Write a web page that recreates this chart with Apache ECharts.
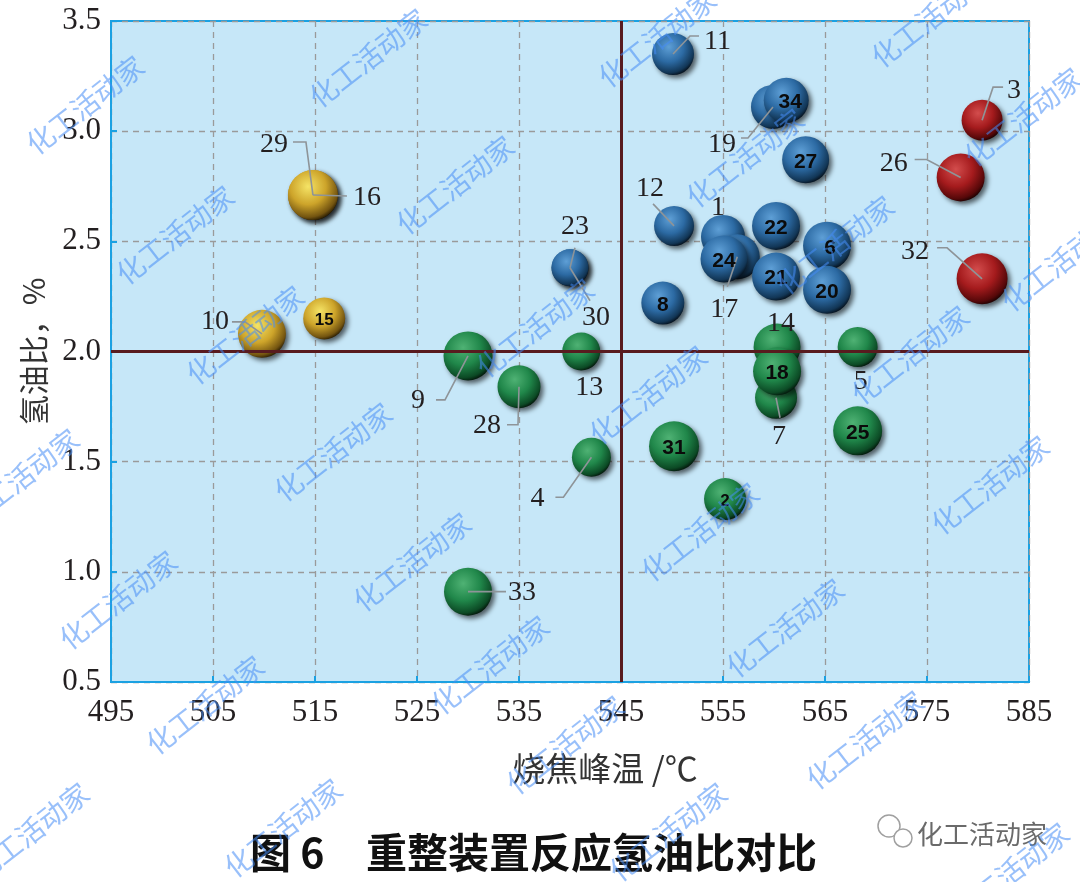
<!DOCTYPE html>
<html><head><meta charset="utf-8">
<script src="https://cdn.jsdelivr.net/npm/echarts@6/dist/echarts.min.js"></script>
<style>html,body{margin:0;padding:0;background:#fff}#chart{width:1080px;height:882px}</style>
</head><body><div id="chart"></div>
<script>
// ---------------- data ----------------
const xMin = 495, xMax = 585, xStep = 10;
const yMin = 0.5, yMax = 3.5, yStep = 0.5;
const refTemp = 545, refRatio = 2.0;
const xName = '烧焦峰温 /℃';
const yName = '氢油比，%';
const titleNo = '图 6';
const titleText = '重整装置反应氢油比对比';
const brandText = '化工活动家';

// blue group
const blueIds   = [11, 19, 34, 27, 12, 1, 17, 24, 22, 6, 21, 20, 8, 23, 30];
const blueTemp  = [550.1, 559.9, 561.2, 563.1, 550.2, 555.0, 556.4, 555.1, 560.2, 565.2, 560.2, 565.2, 549.1, 540.0, 540.0];
const blueRatio = [3.35, 3.11, 3.14, 2.87, 2.57, 2.52, 2.43, 2.42, 2.57, 2.48, 2.34, 2.28, 2.22, 2.38, 2.38];
const blueSize  = [42, 44, 45, 47, 40, 44, 45, 47, 48, 48, 48, 48, 43, 37, 37];
// red group
const redIds   = [3, 26, 32];
const redTemp  = [580.4, 578.3, 580.4];
const redRatio = [3.05, 2.79, 2.33];
const redSize  = [41, 48, 51];
// yellow group
const yellowIds   = [29, 16, 15, 10];
const yellowTemp  = [514.8, 514.8, 515.9, 509.8];
const yellowRatio = [2.71, 2.71, 2.15, 2.08];
const yellowSize  = [50, 50, 42, 48];
// green group
const greenIds   = [9, 28, 13, 4, 31, 2, 7, 14, 18, 5, 25, 33];
const greenTemp  = [530.0, 535.0, 541.1, 542.1, 550.2, 555.2, 560.2, 560.3, 560.3, 568.2, 568.2, 530.0];
const greenRatio = [1.98, 1.84, 2.00, 1.52, 1.57, 1.33, 1.79, 2.02, 1.91, 2.02, 1.64, 0.91];
const greenSize  = [49, 43, 38, 39, 50, 42, 42, 47, 48, 40, 49, 48];

// ---------------- label placement (pixel offsets from bubble centre) ----------------
const labelSpec = {
  11: {t:[31,-12], a:'left',  l:[[17,-18],[26,-18]]},
  19: {t:[-37,38], a:'right', l:[[-25,31],[-32,31]]},
  12: {t:[-10,-37], a:'right', l:[[-21,-22]]},
  1:  {t:[-5,-29], a:'center'},
  17: {t:[-13,53], a:'center', l:[[-10,30]]},
  23: {t:[5,-41], a:'center', l:[[5,-20]]},
  30: {t:[26,50], a:'center', l:[[20,33]]},
  3:  {t:[25,-30], a:'left',  l:[[11,-33],[21,-33]]},
  26: {t:[-53,-14], a:'right', l:[[-34,-18],[-46,-18]]},
  32: {t:[-53,-27], a:'right', l:[[-35,-31],[-45,-31]]},
  29: {t:[-25,-50], a:'right', l:[[-7,-53],[-20,-53]]},
  16: {t:[40,3], a:'left', l:[[34,1]]},
  10: {t:[-33,-12], a:'right', l:[[-17,-12],[-30,-12]]},
  9:  {t:[-43,45], a:'right', l:[[-23,44],[-32,44]]},
  28: {t:[-18,39], a:'right', l:[[-1,38],[-12,38]]},
  13: {t:[8,36], a:'center'},
  4:  {t:[-47,41], a:'right', l:[[-28,40],[-36,40]]},
  14: {t:[4,-23], a:'center'},
  7:  {t:[3,39], a:'center', l:[[4,20]]},
  5:  {t:[3,35], a:'center'},
  33: {t:[40,1], a:'left', l:[[38,0]]},
  34: {inside:true, t:[4,2]}, 27: {inside:true, t:[0,2]}, 22: {inside:true, t:[0,2]},
  6:  {inside:true, t:[3,2]}, 24: {inside:true, t:[0,2]}, 21: {inside:true, t:[0,2]},
  20: {inside:true, t:[0,2]}, 8:  {inside:true, t:[0,2]}, 15: {inside:true, t:[0,2], fs:17},
  31: {inside:true, t:[0,2]}, 2:  {inside:true, t:[0,2], fs:17}, 18: {inside:true, t:[0,2]},
  25: {inside:true, t:[0,2]}
};

// ---------------- styles ----------------
function ball(c0, c1, c2, c3) {
  return {type:'radial', x:0.4, y:0.33, r:0.72,
    colorStops:[{offset:0,color:c0},{offset:0.5,color:c1},{offset:0.85,color:c2},{offset:1,color:c3}]};
}
const groups = [
  {ids:blueIds, temp:blueTemp, ratio:blueRatio, size:blueSize, color:ball('#5e9fd6','#2c6aa3','#123656','#02070d')},
  {ids:redIds, temp:redTemp, ratio:redRatio, size:redSize, color:ball('#d34d4d','#a51b1d','#560809','#0c0000')},
  {ids:yellowIds, temp:yellowTemp, ratio:yellowRatio, size:yellowSize, color:ball('#f5e466','#cda42a','#735410','#160e00')},
  {ids:greenIds, temp:greenTemp, ratio:greenRatio, size:greenSize, color:ball('#4fb274','#20874a','#0c4a25','#010804')}
];

const series = groups.map(g => ({
  type:'scatter', silent:true, z:3,
  data: g.ids.map((id,i) => [g.temp[i], g.ratio[i], g.size[i], id]),
  symbolSize: v => v[2],
  itemStyle:{color:g.color, opacity:1, shadowColor:'rgba(0,0,0,0.6)', shadowBlur:5, shadowOffsetX:3, shadowOffsetY:3}
}));

const annData = [];
groups.forEach(g => g.ids.forEach((id,i) => annData.push([g.temp[i], g.ratio[i], id])));

series.push({
  type:'custom', silent:true, z:6,
  data: annData,
  renderItem: (params, api) => {
    const id = api.value(2);
    const p = api.coord([api.value(0), api.value(1)]);
    const s = labelSpec[id];
    const ch = [];
    if (!s) return {type:'group', children:[]};
    if (s.l) {
      ch.push({type:'polyline', shape:{points:[[p[0],p[1]]].concat(s.l.map(o=>[p[0]+o[0],p[1]+o[1]]))},
        style:{stroke:'#8e9498', lineWidth:1.6, fill:null}});
    }
    const x = p[0]+s.t[0], y = p[1]+s.t[1];
    if (s.inside) {
      ch.push({type:'text', x:x, y:y, style:{text:String(id), fill:'#0b0b0b', fontSize:s.fs||21, fontWeight:'bold',
        fontFamily:'Liberation Sans, Arial, sans-serif', align:'center', verticalAlign:'middle', textAlign:'center', textVerticalAlign:'middle'}});
    } else {
      ch.push({type:'text', x:x, y:y, style:{text:String(id), fill:'#231f20', fontSize:28,
        fontFamily:'Liberation Serif, Times New Roman, serif', align:s.a, verticalAlign:'middle', textAlign:s.a, textVerticalAlign:'middle'}});
    }
    return {type:'group', children:ch};
  },
  markLine:{silent:true, symbol:'none', z:5, label:{show:false},
    lineStyle:{color:'#581b1f', width:3, type:'solid'},
    data:[{xAxis:refTemp},{yAxis:refRatio}]}
});

// ---------------- watermarks (decorative) ----------------
const wmPos = [[85,105],[368,58],[657,38],[930,18],[1023,117],[455,185],[745,158],[175,235],[1060,262],
  [245,335],[535,328],[835,245],[648,395],[910,355],[20,478],[333,452],[990,485],[700,532],[412,562],
  [118,600],[785,628],[490,665],[205,705],[865,740],[565,745],[283,828],[668,832],[30,832],[1010,872]];
const graphics = wmPos.map(p => ({type:'text', x:p[0], y:p[1], rotation:0.66, z:100, silent:true,
  style:{text:brandText, fill:'rgba(70,140,245,0.55)', fontSize:28, fontFamily:'Noto Sans CJK SC, sans-serif',
    align:'center', verticalAlign:'middle', textAlign:'center', textVerticalAlign:'middle'}}));

graphics.push(
  {type:'text', x:250, y:852, z:50, style:{text:titleNo, fill:'#111', fontSize:41, fontWeight:'bold',
    fontFamily:'Noto Sans CJK SC, sans-serif', align:'left', verticalAlign:'middle', textAlign:'left', textVerticalAlign:'middle'}},
  {type:'text', x:366, y:852, z:50, style:{text:titleText, fill:'#111', fontSize:41, fontWeight:'bold',
    fontFamily:'Noto Sans CJK SC, sans-serif', align:'left', verticalAlign:'middle', textAlign:'left', textVerticalAlign:'middle'}},
  {type:'circle', z:50, shape:{cx:889, cy:826, r:11}, style:{fill:'#fff', stroke:'#a0a0a0', lineWidth:1.5}},
  {type:'circle', z:51, shape:{cx:903, cy:838, r:9}, style:{fill:'#fff', stroke:'#a0a0a0', lineWidth:1.5}},
  {type:'text', x:917, y:834, z:50, style:{text:brandText, fill:'#6a6a6a', fontSize:26,
    fontFamily:'Noto Sans CJK SC, sans-serif', align:'left', verticalAlign:'middle', textAlign:'left', textVerticalAlign:'middle'}}
);

const blue = '#1ba1e2';
const option = {
  animation:false,
  backgroundColor:'#ffffff',
  grid:{left:111, right:51, top:21, bottom:200, show:true, backgroundColor:'#c6e7f8', borderColor:blue, borderWidth:2},
  xAxis:{type:'value', min:xMin, max:xMax, interval:xStep,
    name:xName, nameLocation:'middle', nameGap:70,
    nameTextStyle:{fontSize:33, color:'#333', fontFamily:'Noto Sans CJK SC, sans-serif', padding:[0,0,0,70]},
    axisLine:{show:true, lineStyle:{color:blue, width:2}},
    axisTick:{show:true, inside:true, length:6, lineStyle:{color:blue, width:2}},
    axisLabel:{fontSize:31, color:'#231f20', fontFamily:'Liberation Serif, Times New Roman, serif', margin:15},
    splitLine:{show:true, lineStyle:{color:'#9a9a9a', width:1.3, type:[6,5]}}},
  yAxis:{type:'value', min:yMin, max:yMax, interval:yStep,
    name:yName, nameLocation:'middle', nameGap:62, nameRotate:90,
    nameTextStyle:{fontSize:30, color:'#333', fontFamily:'Noto Sans CJK SC, sans-serif'},
    axisLine:{show:true, lineStyle:{color:blue, width:2}},
    axisTick:{show:true, inside:true, length:6, lineStyle:{color:blue, width:2}},
    axisLabel:{fontSize:31, color:'#231f20', fontFamily:'Liberation Serif, Times New Roman, serif', margin:10,
      formatter:v=>v.toFixed(1)},
    splitLine:{show:true, lineStyle:{color:'#9a9a9a', width:1.3, type:[6,5]}}},
  series: series,
  graphic: graphics
};
const chart = echarts.init(document.getElementById('chart'), null, {renderer:'canvas'});
chart.setOption(option);
</script></body></html>
